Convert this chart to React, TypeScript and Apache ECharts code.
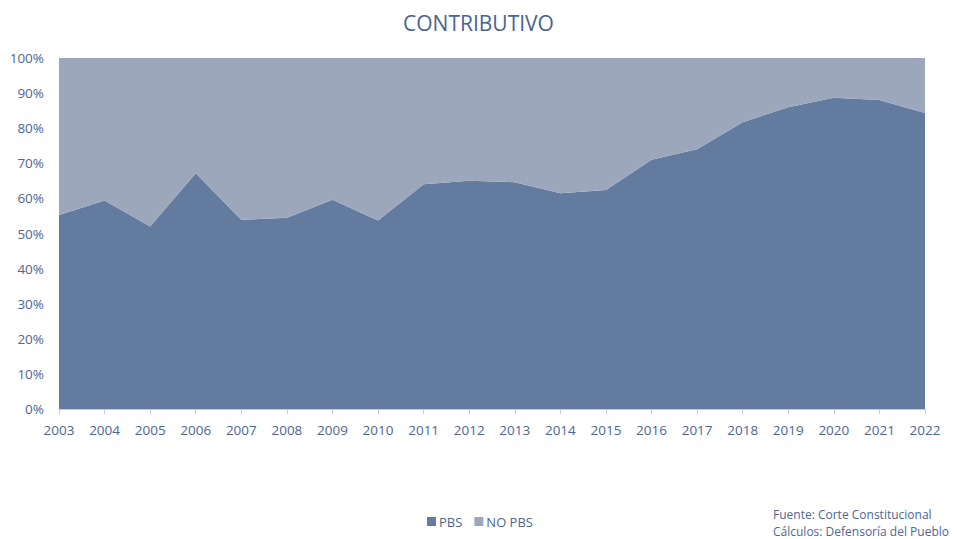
import React, { useEffect, useRef } from "react";
import * as echarts from "echarts";

const years = ["2003","2004","2005","2006","2007","2008","2009","2010","2011","2012","2013","2014","2015","2016","2017","2018","2019","2020","2021","2022"];
const pbs = [55.3,59.4,52.0,67.2,53.9,54.5,59.6,53.7,64.0,65.0,64.6,61.5,62.4,71.0,74.0,81.7,86.0,88.7,88.0,84.3];
const noPbs = pbs.map((v) => +(100 - v).toFixed(1));
const yTicks = [0,10,20,30,40,50,60,70,80,90,100];
const titleText = "CONTRIBUTIVO";
const sourceLines = ["Fuente: Corte Constitucional", "Cálculos: Defensoría del Pueblo"];

const FONT = "'Open Sans', 'Noto Sans', sans-serif";
const TEXT = "#4F6592";
const DARK = "#647BA0";
const LIGHT = "#9CA7BC";

export default function App() {
  const ref = useRef<HTMLDivElement>(null);
  useEffect(() => {
    if (!ref.current) return;
    const chart = echarts.init(ref.current, undefined, { renderer: "svg" });
    chart.setOption({
      animation: false,
      backgroundColor: "#ffffff",
      title: {
        text: titleText,
        left: "center",
        top: 7,
        textStyle: { fontFamily: FONT, fontSize: 21, fontWeight: "normal", color: "#4A6294" },
      },
      legend: {
        left: 422,
        top: 510,
        itemWidth: 9,
        itemHeight: 9,
        itemGap: 12,
        icon: "rect",
        textStyle: { fontFamily: FONT, fontSize: 13, color: TEXT, padding: [0, 0, 0, -2] },
        data: ["PBS", "NO PBS"],
      },
      graphic: [
        {
          type: "text",
          left: 773,
          top: 506,
          style: {
            text: sourceLines.join("\n"),
            font: `12px ${FONT}`,
            fill: TEXT,
            lineHeight: 17,
          },
        },
      ],
      grid: { left: 59, right: 32, top: 58, bottom: 130 },
      xAxis: {
        type: "category",
        data: years,
        boundaryGap: false,
        axisLine: { lineStyle: { color: "#C3CAD8", width: 1 } },
        axisTick: { show: true, length: 5, lineStyle: { color: "#C3CAD8" } },
        axisLabel: { fontFamily: FONT, fontSize: 13.5, color: TEXT, margin: 14 },
        splitLine: { show: false },
      },
      yAxis: {
        type: "value",
        min: 0,
        max: 100,
        interval: 10,
        axisLine: { show: false },
        axisTick: { show: false },
        splitLine: { show: false },
        axisLabel: {
          fontFamily: FONT,
          fontSize: 13.5,
          color: TEXT,
          margin: 15,
          formatter: (v: number) => (yTicks.includes(v) ? `${v}%` : ""),
        },
      },
      series: [
        {
          name: "PBS",
          type: "line",
          stack: "total",
          data: pbs,
          symbol: "none",
          lineStyle: { width: 0 },
          itemStyle: { color: DARK },
          areaStyle: { color: DARK, opacity: 1 },
        },
        {
          name: "NO PBS",
          type: "line",
          stack: "total",
          data: noPbs,
          symbol: "none",
          lineStyle: { width: 0 },
          itemStyle: { color: LIGHT },
          areaStyle: { color: LIGHT, opacity: 1 },
        },
      ],
    });
    return () => chart.dispose();
  }, []);
  return <div ref={ref} style={{ width: 957, height: 539, position: "absolute", left: 0, top: 0 }} />;
}
